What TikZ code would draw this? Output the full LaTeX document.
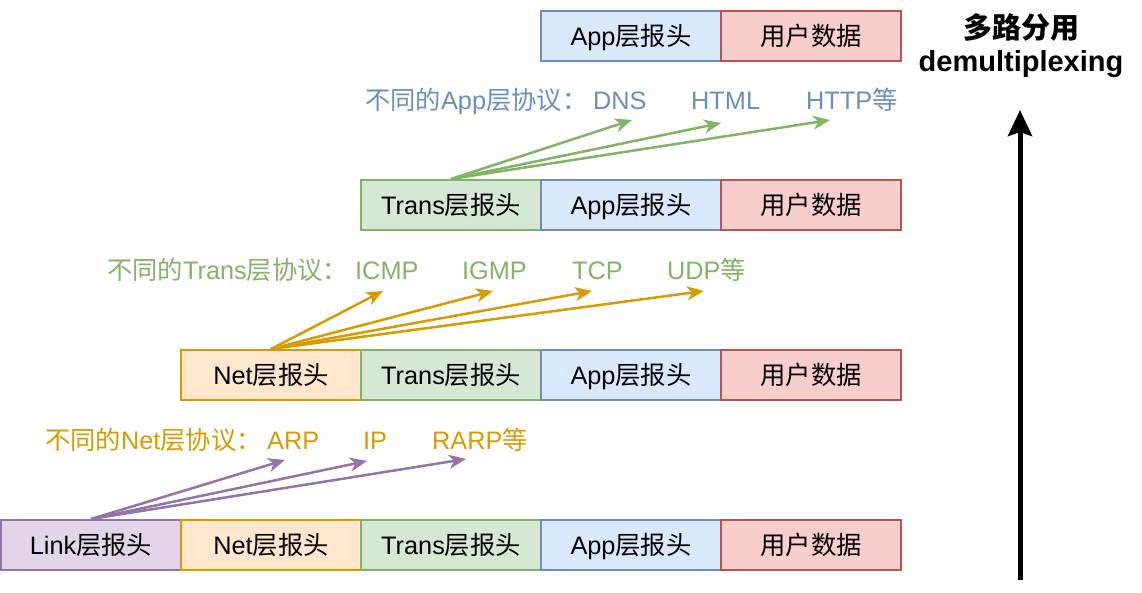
\documentclass[tikz,border=0pt]{standalone}
\usepackage{fontspec}
\setmainfont{Liberation Sans}
\newfontfamily\cjk{Noto Sans CJK SC}
\usetikzlibrary{arrows.meta}
\definecolor{blueS}{HTML}{6C8EBF}\definecolor{blueF}{HTML}{DAE8FC}
\definecolor{redS}{HTML}{B85450}\definecolor{redF}{HTML}{F8CECC}
\definecolor{greenS}{HTML}{82B366}\definecolor{greenF}{HTML}{D5E8D4}
\definecolor{orangeS}{HTML}{D79B00}\definecolor{orangeF}{HTML}{FFE6CC}
\definecolor{purpleS}{HTML}{9673A6}\definecolor{purpleF}{HTML}{E1D5E7}
\tikzset{
  hdr/.style={draw, line width=2pt, minimum width=180pt, minimum height=50pt, inner sep=0pt, text height=19.5pt, text depth=0pt},
  apphdr/.style={hdr, draw=blueS, fill=blueF},
  datahdr/.style={hdr, draw=redS, fill=redF},
  transhdr/.style={hdr, draw=greenS, fill=greenF},
  nethdr/.style={hdr, draw=orangeS, fill=orangeF},
  linkhdr/.style={hdr, draw=purpleS, fill=purpleF},
  lbl/.style={anchor=base west, inner sep=0pt},
  fan/.style={line width=2.5pt, -{Stealth[length=17pt,width=14pt,inset=5pt]}},
  title/.style={font=\fontsize{29}{33}\selectfont\bfseries},
}
\begin{document}
\begin{tikzpicture}[x=1pt,y=-1pt,font=\fontsize{25.3}{30}\selectfont]
\useasboundingbox (0,0) rectangle (1142,592);
% row 1
\node[apphdr] (a1) at (631,36) {App{\cjk 层报头}};
\node[datahdr] (d1) at (811,36) {{\cjk 用户数据}};
% row 2
\node[transhdr] (t2) at (451,205) {Trans{\cjk 层报头}};
\node[apphdr] (a2) at (631,205) {App{\cjk 层报头}};
\node[datahdr] (d2) at (811,205) {{\cjk 用户数据}};
% row 3
\node[nethdr] (n3) at (271,375) {Net{\cjk 层报头}};
\node[transhdr] (t3) at (451,375) {Trans{\cjk 层报头}};
\node[apphdr] (a3) at (631,375) {App{\cjk 层报头}};
\node[datahdr] (d3) at (811,375) {{\cjk 用户数据}};
% row 4
\node[linkhdr] (l4) at (91,545) {Link{\cjk 层报头}};
\node[nethdr] (n4) at (271,545) {Net{\cjk 层报头}};
\node[transhdr] (t4) at (451,545) {Trans{\cjk 层报头}};
\node[apphdr] (a4) at (631,545) {App{\cjk 层报头}};
\node[datahdr] (d4) at (811,545) {{\cjk 用户数据}};

% App protocols
\begin{scope}[text=blueS]
\node[lbl] (lab1) at (365,109) {{\cjk 不同的}App{\cjk 层协议：}};
\node[lbl] (dns) at (593,109) {DNS};
\node[lbl] (html) at (691,109) {HTML};
\node[lbl] (http) at (806,109) {HTTP{\cjk 等}};
\end{scope}
\coordinate (e1a) at (632,120);
\coordinate (e1b) at (721,123);
\coordinate (e1c) at (830,120);
\draw[fan, greenS] (t2.north) -- (e1a);
\draw[fan, greenS] (t2.north) -- (e1b);
\draw[fan, greenS] (t2.north) -- (e1c);

% Trans protocols
\begin{scope}[text=greenS]
\node[lbl] (lab2) at (107,279) {{\cjk 不同的}Trans{\cjk 层协议：}};
\node[lbl] (icmp) at (355,279) {ICMP};
\node[lbl] (igmp) at (462,279) {IGMP};
\node[lbl] (tcp) at (572,279) {TCP};
\node[lbl] (udp) at (667,279) {UDP{\cjk 等}};
\end{scope}
\coordinate (e2a) at (383,291);
\coordinate (e2b) at (493,291);
\coordinate (e2c) at (592,291);
\coordinate (e2d) at (704,291);
\draw[fan, orangeS] (n3.north) -- (e2a);
\draw[fan, orangeS] (n3.north) -- (e2b);
\draw[fan, orangeS] (n3.north) -- (e2c);
\draw[fan, orangeS] (n3.north) -- (e2d);

% Net protocols
\begin{scope}[text=orangeS]
\node[lbl] (lab3) at (45,449) {{\cjk 不同的}Net{\cjk 层协议：}};
\node[lbl] (arp) at (267,449) {ARP};
\node[lbl] (ip) at (363,449) {IP};
\node[lbl] (rarp) at (432,449) {RARP{\cjk 等}};
\end{scope}
\coordinate (e3a) at (285,460);
\coordinate (e3b) at (367,461);
\coordinate (e3c) at (466,459);
\draw[fan, purpleS] (l4.north) -- (e3a);
\draw[fan, purpleS] (l4.north) -- (e3b);
\draw[fan, purpleS] (l4.north) -- (e3c);

% demultiplexing
\node[title] (t1) at (1021,28) {{\cjk 多路分用}};
\node[title] (t2b) at (1021,64) {demultiplexing};
\coordinate (upB) at (1020,580);
\coordinate (upT) at (1020,110);
\draw[line width=5pt, -{Stealth[length=26pt,width=24pt,inset=4pt]}] (upB) -- (upT);
\end{tikzpicture}
\end{document}
